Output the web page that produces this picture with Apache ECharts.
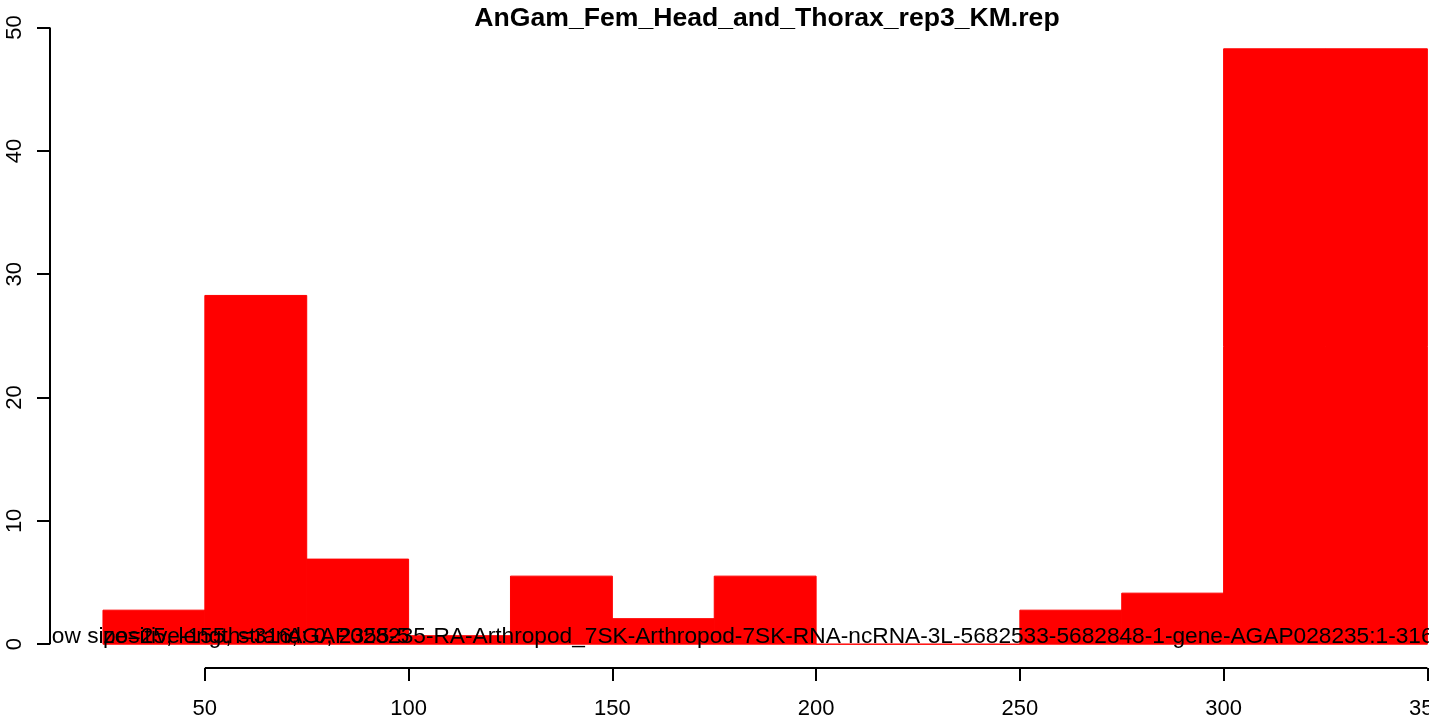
<!DOCTYPE html>
<html>
<head>
<meta charset="utf-8">
<script src="https://cdn.jsdelivr.net/npm/echarts@6/dist/echarts.min.js"></script>
<style>
html,body{margin:0;padding:0;background:#fff;}
#chart{width:1429px;height:716px;}
</style>
</head>
<body>
<div id="chart"></div>
<script>
// ---- data ----
const titleText = "AnGam_Fem_Head_and_Thorax_rep3_KM.rep";
const binStarts = [25, 50, 75, 100, 125, 150, 175, 200, 225, 250, 275, 300, 325];
const binWidth = 25;
const binValues = [2.76, 28.28, 6.90, 0.69, 5.52, 2.07, 5.52, 0, 0, 2.76, 4.14, 48.28, 48.28];
const xTicks = [50, 100, 150, 200, 250, 300, 350];
const yTicks = [0, 10, 20, 30, 40, 50];
const noteTexts = [
  "window size=25, length=316,",
  "positive-155, strand: 0, 2355-5",
  "AGAP028235-RA-Arthropod_7SK-Arthropod-7SK-RNA-ncRNA-3L-5682533-5682848-1-gene-AGAP028235:1-316"
];
const noteX = [1, 25, 70.2];
const noteY = 0.6;

// R-style axis ranges (4% extension)
const xMin = 12, xMax = 350.4;
const yMin = -1.93, yMax = 50.21;

const FONT = "'Liberation Sans', Arial, Helvetica, sans-serif";

const histData = binStarts.map((s, i) => [s, s + binWidth, binValues[i]]);
const noteData = noteTexts.map((t, i) => [noteX[i], noteY, i]);

const chart = echarts.init(document.getElementById('chart'), null, {renderer: 'canvas'});
chart.setOption({
  animation: false,
  backgroundColor: '#ffffff',
  title: {
    text: titleText,
    left: 762,
    textAlign: 'center',
    top: 0,
    textStyle: {fontFamily: FONT, fontWeight: 'bold', fontSize: 26.6, color: '#000'}
  },
  grid: {left: 50, right: 0, top: 25, bottom: 48, containLabel: false, outerBoundsMode: 'none'},
  xAxis: {
    type: 'value', min: xMin, max: xMax,
    axisLine: {show: false, onZero: false},
    splitLine: {show: false},
    axisTick: {show: true, length: 13, lineStyle: {color: '#000', width: 2}, customValues: xTicks},
    axisLabel: {show: true, customValues: xTicks, margin: 30, fontFamily: FONT, fontSize: 22, color: '#000', hideOverlap: false}
  },
  yAxis: {
    type: 'value', min: yMin, max: yMax,
    axisLine: {show: false, onZero: false},
    splitLine: {show: false},
    axisTick: {show: true, length: 13, lineStyle: {color: '#000', width: 2}, customValues: yTicks},
    axisLabel: {show: true, customValues: yTicks, rotate: 90, margin: 24, fontFamily: FONT, fontSize: 22, color: '#000'}
  },
  series: [
    {
      type: 'custom',
      name: 'hist',
      data: histData,
      encode: {x: [0, 1], y: 2},
      renderItem: function (params, api) {
        const p0 = api.coord([api.value(0), api.value(2)]);
        const p1 = api.coord([api.value(1), 0]);
        return {
          type: 'rect',
          shape: {x: p0[0], y: p0[1], width: p1[0] - p0[0], height: p1[1] - p0[1]},
          style: {fill: '#ff0000', stroke: '#ff0000', lineWidth: 1}
        };
      }
    },
    {
      type: 'line',
      name: 'xaxisline',
      data: [[xTicks[0], yMin], [xTicks[xTicks.length - 1], yMin]],
      symbol: 'none', silent: true, clip: false,
      lineStyle: {color: '#000', width: 2}
    },
    {
      type: 'line',
      name: 'yaxisline',
      data: [[xMin, yTicks[0]], [xMin, yTicks[yTicks.length - 1]]],
      symbol: 'none', silent: true, clip: false,
      lineStyle: {color: '#000', width: 2}
    },
    {
      type: 'custom',
      name: 'notes',
      clip: true,
      data: noteData,
      encode: {x: 0, y: 1},
      z: 10,
      renderItem: function (params, api) {
        const p = api.coord([api.value(0), api.value(1)]);
        const idx = api.value(2);
        return {
          type: 'text',
          x: p[0], y: p[1],
          style: {
            text: noteTexts[idx],
            fill: '#000',
            font: '22.7px ' + FONT,
            textAlign: 'left',
            textVerticalAlign: 'middle'
          }
        };
      }
    }
  ]
});
</script>
</body>
</html>
